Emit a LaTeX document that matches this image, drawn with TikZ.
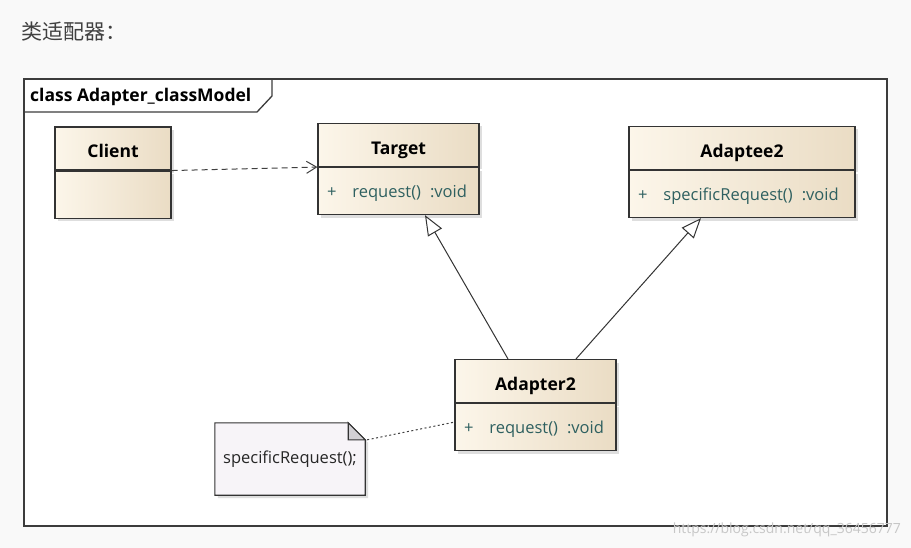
\documentclass[tikz,border=0pt]{standalone}
\usepackage{fontspec}
\setmainfont{Open Sans}
\newfontfamily\cjk{Noto Sans CJK SC}
\usepackage{xcolor}
\usetikzlibrary{arrows.meta,positioning,shadows}

\definecolor{pagebg}{RGB}{249,249,249}
\definecolor{framegray}{RGB}{60,60,60}
\definecolor{boxlight}{RGB}{252,246,234}
\definecolor{boxdark}{RGB}{234,220,196}
\definecolor{membercol}{RGB}{46,96,96}
\definecolor{notefill}{RGB}{247,244,248}
\definecolor{foldgray}{RGB}{210,208,212}

\tikzset{
	classhead/.style={draw=black!80, line width=1.1pt, left color=boxlight, right color=boxdark,
		minimum height=43, inner sep=0pt, text height=22pt, text depth=3pt,
		font=\fontsize{17.5}{20}\selectfont\bfseries,
		drop shadow={shadow xshift=3pt, shadow yshift=-3pt, fill=black!25}},
	classbody/.style={draw=black!80, line width=1.1pt, left color=boxlight, right color=boxdark,
		minimum height=47, inner xsep=9pt, inner ysep=0pt, text height=17pt, text depth=4pt,
		align=left, text=membercol, font=\fontsize{16.5}{19}\selectfont,
		drop shadow={shadow xshift=3pt, shadow yshift=-3pt, fill=black!25}},
	depend/.style={draw=black!75, line width=1pt, dash pattern=on 6pt off 4pt,
		-{Straight Barb[length=10pt,width=12pt,line width=1pt]}},
	inherit/.style={draw=black!80, line width=1pt,
		-{Triangle[length=20pt,width=16pt,fill=white,line width=1pt]}},
	notelink/.style={draw=black!75, line width=1pt, dash pattern=on 2pt off 2.5pt},
}

\begin{document}
\begin{tikzpicture}[x=1pt,y=-1pt]
	\useasboundingbox[fill=pagebg] (0,0) rectangle (911,548);

	% heading above the diagram
	\node[anchor=west, inner sep=0pt, text=black!75] (heading) at (21,32) {\cjk\fontsize{21}{24}\selectfont 类适配器：};

	% frame and its name tab
	\draw[framegray, line width=1.6pt, fill=white] (24,79) rectangle (887,526);
	\node[anchor=west, inner sep=0pt, font=\fontsize{17.5}{20}\selectfont\bfseries] (title) at (30,97) {class Adapter\_classModel};
	\draw[framegray, line width=1.3pt] (24,112) -- (257,112) -- (272,96) -- (272,79);

	% classes
	\node[classhead, minimum width=116] (client) at (113,148.5) {Client};
	\node[classbody, minimum width=116, below=0pt of client] (client-ops) {};

	\node[classhead, minimum width=161] (target) at (398.5,145) {Target};
	\node[classbody, text width=143, below=0pt of target] (target-ops) {+\hspace{16pt}request()\hspace{9pt}:void};

	\node[classhead, minimum width=226] (adaptee) at (742,148) {Adaptee2};
	\node[classbody, text width=208, below=0pt of adaptee] (adaptee-ops) {+\hspace{16pt}specificRequest()\hspace{9pt}:void};

	\node[classhead, minimum width=161] (adapter) at (535.5,381) {Adapter2};
	\node[classbody, text width=143, below=0pt of adapter] (adapter-ops) {+\hspace{16pt}request()\hspace{9pt}:void};

	% note
	\node[minimum width=150, minimum height=72, inner sep=0pt] (note) at (290,459) {};
	\draw[draw=black!80, line width=1.1pt, fill=notefill,
		drop shadow={shadow xshift=3pt, shadow yshift=-3pt, fill=black!25}]
		(note.north west) -- ([shift={(-17,0)}]note.north east) -- ([shift={(0,17)}]note.north east)
		-- (note.south east) -- (note.south west) -- cycle;
	\draw[draw=black!80, line width=1.1pt, fill=foldgray]
		([shift={(-17,0)}]note.north east) -- ([shift={(-17,17)}]note.north east) -- ([shift={(0,17)}]note.north east) -- cycle;
	\node[text=black!85, font=\fontsize{16.5}{19}\selectfont] (note-text) at (note.center) {specificRequest();};

	% connectors
	\draw[depend] (client.south east) -- (target.south west);
	\draw[inherit] ([shift={(-27.5,0)}]adapter.north) -- ([shift={(26.5,0)}]target-ops.south);
	\draw[inherit] ([shift={(40.5,0)}]adapter.north) -- ([shift={(-41,0)}]adaptee-ops.south);
	\draw[notelink] ([shift={(2,17)}]note.north east) -- ([shift={(0,-5)}]adapter-ops.west);

	% watermark
	\node[anchor=east, inner sep=0pt, text=black!22, font=\fontsize{14}{16}\selectfont] (mark) at (901,530) {https://blog.csdn.net/qq\_36456777};
\end{tikzpicture}
\end{document}
